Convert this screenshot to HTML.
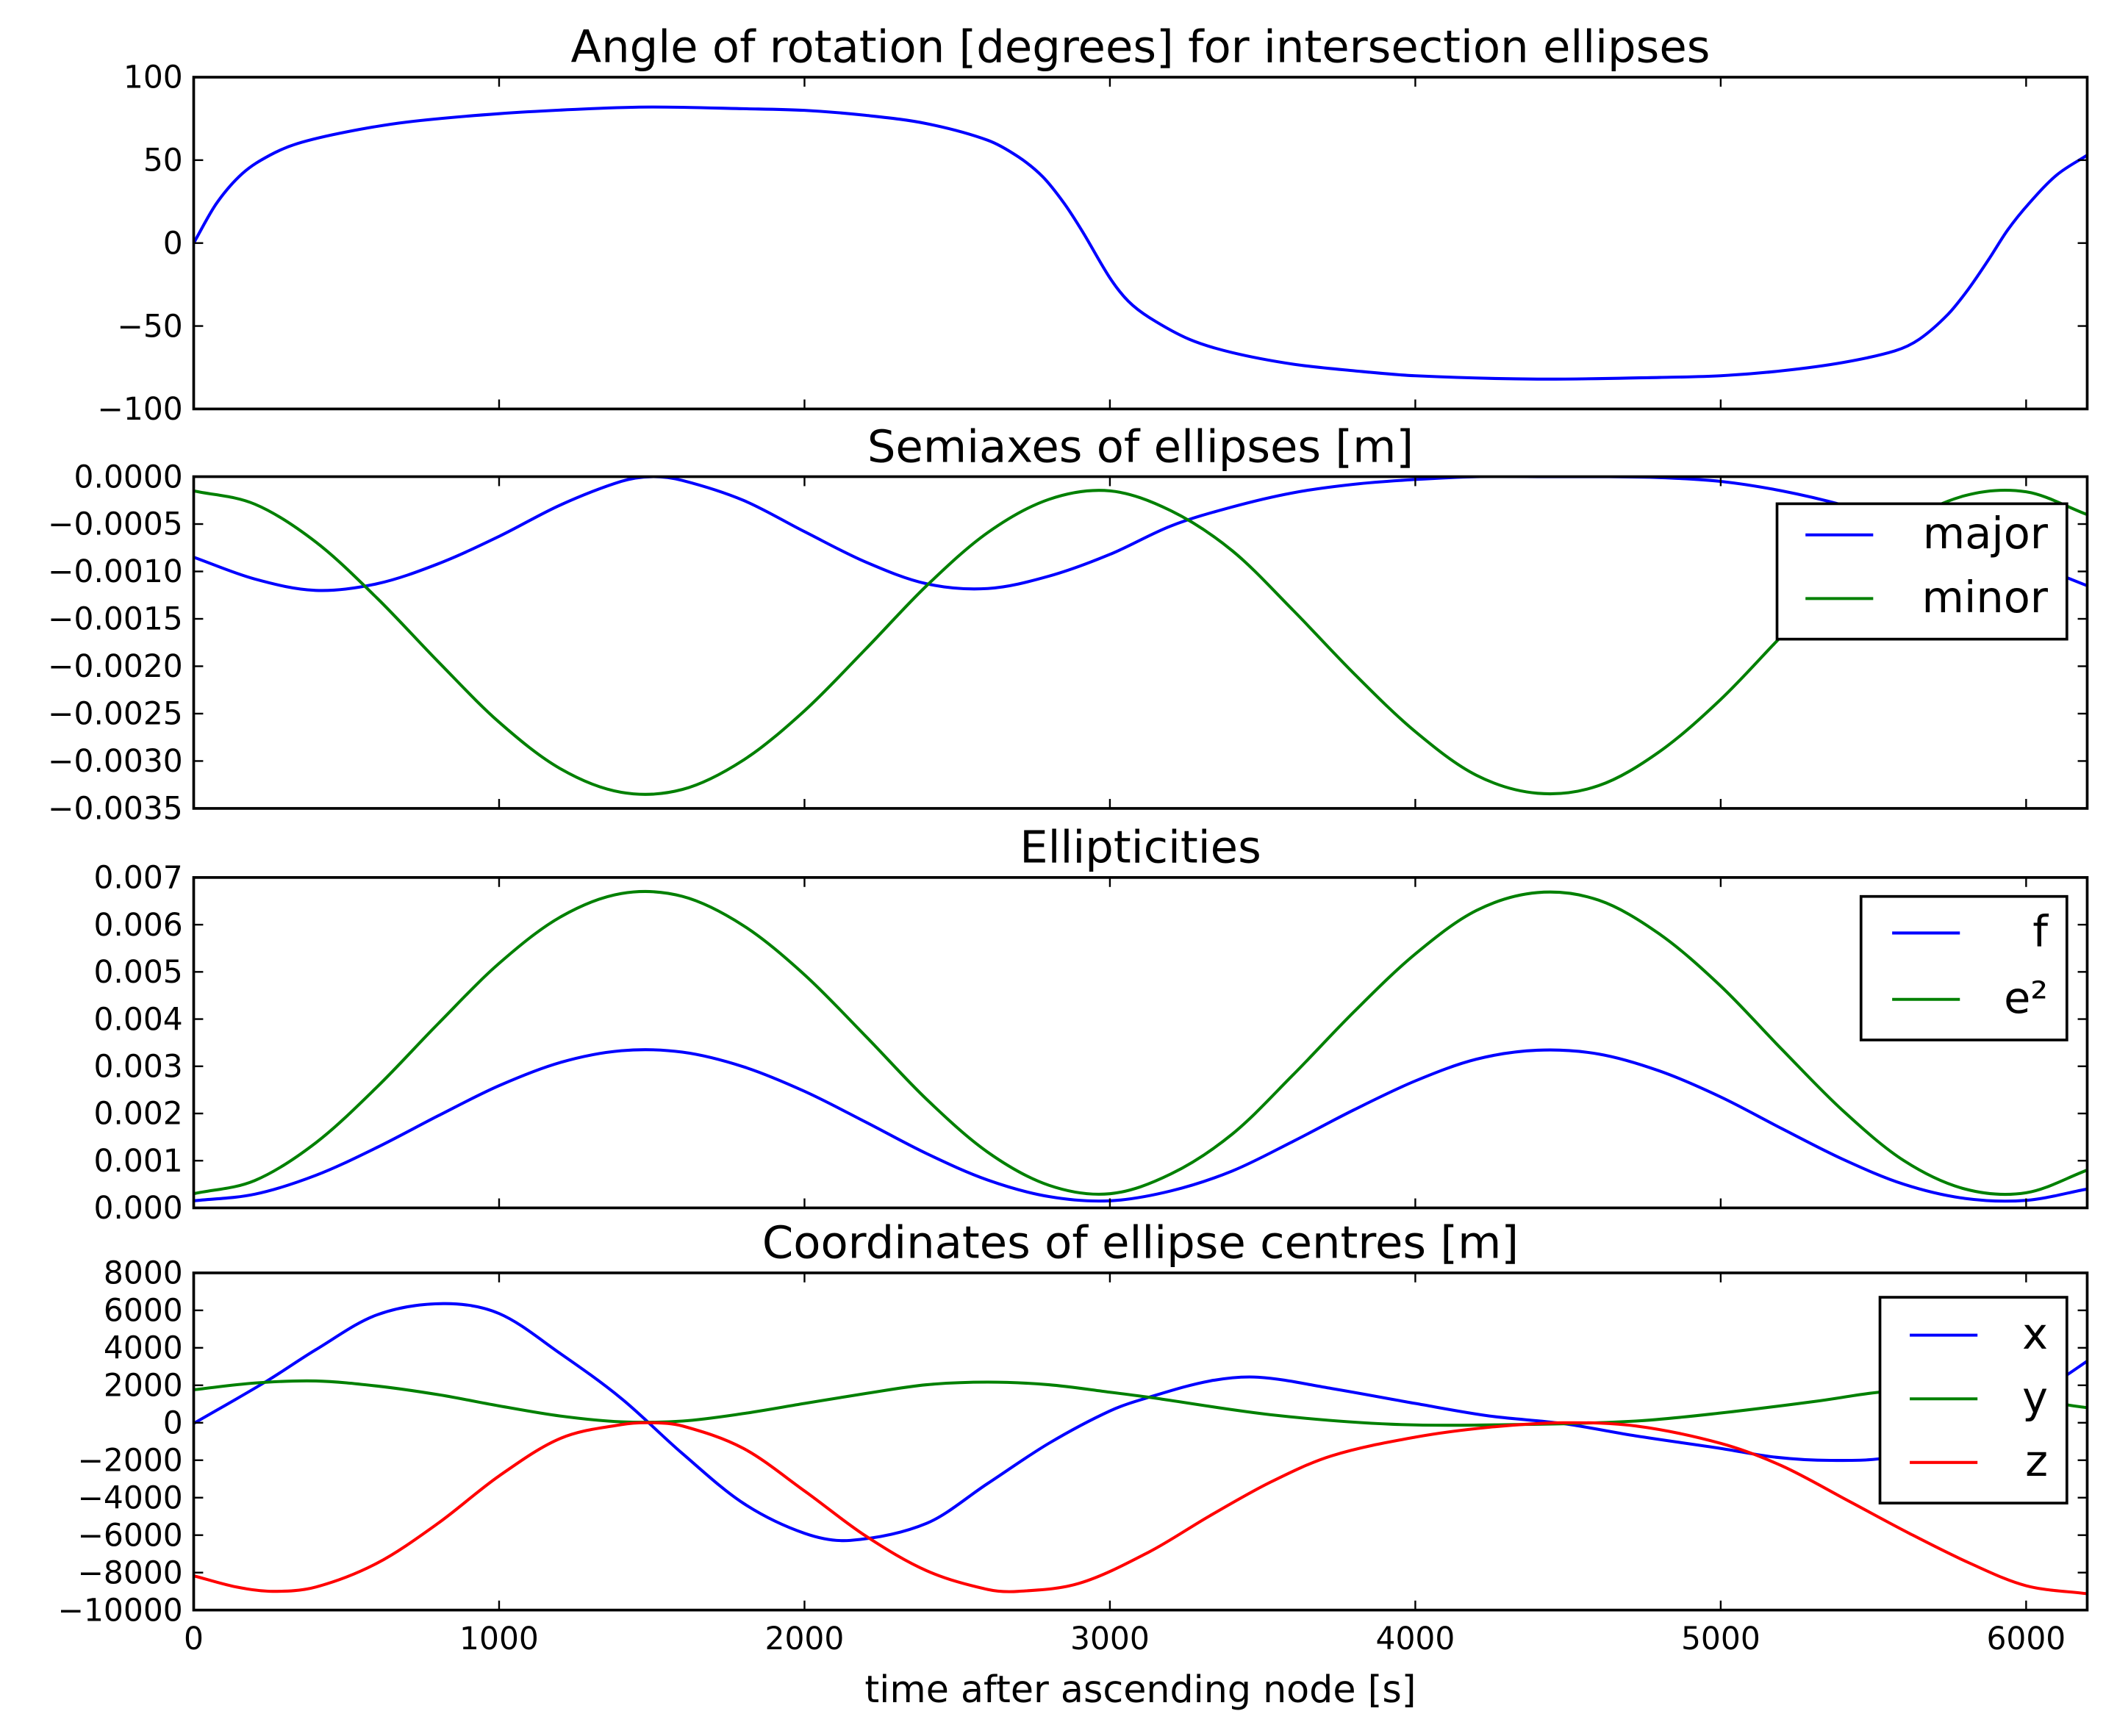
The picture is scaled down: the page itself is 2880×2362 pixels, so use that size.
<!DOCTYPE html>
<html><head><meta charset="utf-8"><style>
html,body{margin:0;padding:0;background:#fff;}
svg{display:block;}
text{font-family:"DejaVu Sans","Liberation Sans",sans-serif;fill:#000;}
</style></head><body>
<svg id="fig" width="2880" height="2362" viewBox="0 0 1563 1282" preserveAspectRatio="none" xmlns="http://www.w3.org/2000/svg"></svg>
<script>
const tAngle=[0,75,160,250,340,500,700,1000,1300,1500,1800,2000,2200,2400,2600,2700,2780,2850,2910,3000,3060,3130,3260,3400,3600,3800,4000,4400,4800,5000,5200,5400,5570,5650,5744,5810,5877,5940,6010,6100,6200];
const angleVals=[0,24,42,53,60,67,73,78,81,82,81,80,77,72,62,52,40,24,7,-21,-35,-45,-58,-66,-73,-77,-80,-82,-81,-80,-77,-72,-65,-58,-43,-28,-10,8,24,41,53];
const tMajor=[0,200,400,600,800,1000,1200,1400,1500,1600,1800,2000,2200,2400,2600,2800,3000,3200,3400,3600,3800,4000,4200,4400,4600,4800,5000,5200,5400,5600,5800,6000,6200];
const majorVals=[-0.00085,-0.00108,-0.0012,-0.00113,-0.00092,-0.00063,-0.0003,-0.00005,0,-0.00004,-0.00025,-0.00058,-0.0009,-0.00113,-0.00118,-0.00105,-0.00082,-0.00052,-0.00032,-0.00017,-0.00008,-0.00003,0,0,0,-0.00001,-0.00005,-0.00015,-0.0003,-0.0005,-0.0007,-0.0009,-0.00115];
const tGrid=[0,200,400,600,800,1000,1200,1400,1600,1800,2000,2200,2400,2600,2800,3000,3200,3400,3600,3800,4000,4200,4400,4600,4800,5000,5200,5400,5600,5800,6000,6200];
const minorVals=[-0.00015,-0.00029,-0.00069,-0.00128,-0.00195,-0.00259,-0.00308,-0.00333,-0.0033,-0.00299,-0.00247,-0.00182,-0.00115,-0.00059,-0.00024,-0.00015,-0.00036,-0.00078,-0.00141,-0.00208,-0.00269,-0.00315,-0.00334,-0.00326,-0.0029,-0.00235,-0.00168,-0.00103,-0.0005,-0.0002,-0.00016,-0.0004];
const fVals=[0.00015,0.00029,0.00069,0.00128,0.00195,0.00259,0.00308,0.00333,0.0033,0.00299,0.00247,0.00182,0.00115,0.00059,0.00024,0.00015,0.00036,0.00078,0.00141,0.00208,0.00269,0.00315,0.00334,0.00326,0.0029,0.00235,0.00168,0.00103,0.0005,0.0002,0.00016,0.0004];
const e2Vals=[0.0003,0.00058,0.00138,0.00256,0.0039,0.00518,0.00616,0.00666,0.0066,0.00598,0.00494,0.00364,0.0023,0.00118,0.00048,0.0003,0.00072,0.00156,0.00282,0.00416,0.00538,0.0063,0.00668,0.00652,0.0058,0.0047,0.00336,0.00206,0.001,0.0004,0.00032,0.0008];
const tX=[0,240,400,600,817,1000,1200,1400,1600,1800,2000,2150,2400,2600,2800,3000,3128,3327,3486,3725,4000,4243,4482,4721,5000,5180,5360,5550,5800,6000,6115,6200];
const xVals=[-40,2230,3900,5760,6360,5830,3700,1300,-1640,-4300,-5900,-6280,-5370,-3240,-1100,630,1360,2230,2430,1830,1030,360,-40,-700,-1370,-1840,-2010,-1850,-700,1300,2360,3290];
const tY=[0,200,400,600,800,1000,1200,1400,1600,1800,2000,2200,2400,2600,2800,3000,3128,3526,3924,4322,4721,5000,5318,5497,5700,5900,6000,6115,6200];
const yVals=[1760,2120,2230,1960,1500,900,360,50,90,490,1030,1560,2030,2170,2030,1630,1360,430,-80,-100,90,520,1160,1590,1900,1950,1700,1030,800];
const tZ=[0,140,260,400,600,800,1000,1200,1400,1500,1600,1800,2000,2200,2400,2600,2700,2900,3128,3327,3526,3725,4000,4243,4482,4721,5000,5200,5418,5617,5816,6000,6200];
const zVals=[-8170,-8770,-9000,-8770,-7500,-5370,-2840,-840,-100,0,-170,-1370,-3640,-6040,-7900,-8900,-9000,-8570,-6900,-4970,-3170,-1770,-770,-240,0,-170,-1100,-2300,-4170,-5900,-7500,-8700,-9130];
const xTicks=[0,1000,2000,3000,4000,5000,6000];
const ticks1=[100,50,0,-50,-100];const labels1=["100","50","0","\u221250","\u2212100"];
const ticks2=[0,-0.0005,-0.001,-0.0015,-0.002,-0.0025,-0.003,-0.0035];
const labels2=["0.0000","\u22120.0005","\u22120.0010","\u22120.0015","\u22120.0020","\u22120.0025","\u22120.0030","\u22120.0035"];
const ticks3=[0.007,0.006,0.005,0.004,0.003,0.002,0.001,0];
const labels3=["0.007","0.006","0.005","0.004","0.003","0.002","0.001","0.000"];
const ticks4=[8000,6000,4000,2000,0,-2000,-4000,-6000,-8000,-10000];
const labels4=["8000","6000","4000","2000","0","\u22122000","\u22124000","\u22126000","\u22128000","\u221210000"];

const NS="http://www.w3.org/2000/svg";
const svg=document.getElementById('fig');
const X0=143,X1=1541;
function sx(t){return X0+(t/6200)*(X1-X0);}
function mk(tag,attrs,parent){const e=document.createElementNS(NS,tag);for(const k in attrs)e.setAttribute(k,attrs[k]);(parent||svg).appendChild(e);return e;}
function hermite(ts,vs,sy){
  const n=ts.length,m=[];
  for(let i=0;i<n;i++){
    if(i===0)m.push((vs[1]-vs[0])/(ts[1]-ts[0]));
    else if(i===n-1)m.push((vs[n-1]-vs[n-2])/(ts[n-1]-ts[n-2]));
    else m.push((vs[i+1]-vs[i-1])/(ts[i+1]-ts[i-1]));
  }
  const P=(t,v)=>sx(t).toFixed(2)+","+sy(v).toFixed(2);
  let d="M"+P(ts[0],vs[0]);
  for(let i=0;i<n-1;i++){const h=ts[i+1]-ts[i];
    d+=" C"+P(ts[i]+h/3,vs[i]+m[i]*h/3)+" "+P(ts[i+1]-h/3,vs[i+1]-m[i+1]*h/3)+" "+P(ts[i+1],vs[i+1]);}
  return d;
}
function panel(name,top,bot,vmax,vmin,ticks,labels,title,series,legend,showX){
  const g=mk('g',{});
  
  
  const sy=v=>top+(vmax-v)/(vmax-vmin)*(bot-top);
  const cid='clip-'+name;
  const cp=mk('clipPath',{id:cid},g);mk('rect',{x:X0,y:top,width:X1-X0,height:bot-top},cp);
  series.forEach(s=>{
    const p=mk('path',{d:hermite(s.t,s.v,sy),fill:'none',stroke:s.c,'stroke-width':2.2,'clip-path':'url(#'+cid+')'},g);
    
    
  });
  mk('rect',{x:X0,y:top,width:X1-X0,height:bot-top,fill:'none',stroke:'#000','stroke-width':2},g);
  ticks.forEach((v,i)=>{const y=sy(v);
    mk('line',{x1:X0,y1:y,x2:X0+7,y2:y,stroke:'#000','stroke-width':1.3},g);
    mk('line',{x1:X1,y1:y,x2:X1-7,y2:y,stroke:'#000','stroke-width':1.3},g);
    const tx=mk('text',{x:X0-8,y:y+8,'text-anchor':'end','font-size':23},g);tx.textContent=labels[i];
    
    
  });
  xTicks.forEach(t=>{const x=sx(t);
    mk('line',{x1:x,y1:bot,x2:x,y2:bot-7,stroke:'#000','stroke-width':1.3},g);
    mk('line',{x1:x,y1:top,x2:x,y2:top+7,stroke:'#000','stroke-width':1.3},g);
    if(showX){const tx=mk('text',{x:x,y:bot+29,'text-anchor':'middle','font-size':23},g);tx.textContent=t;
      
      }
  });
  const tt=mk('text',{x:(X0+X1)/2,y:top-11,'text-anchor':'middle','font-size':33},g);tt.textContent=title;
  
  
  if(legend){
    const lg=mk('g',{},g);
    
    
    mk('rect',{x:legend.x,y:legend.y,width:1526-legend.x,height:legend.h,fill:'#fff',stroke:'#000','stroke-width':2},lg);
    series.forEach((s,i)=>{const y=legend.y+legend.first+i*legend.step;
      mk('line',{x1:legend.lx,y1:y,x2:legend.lx+50,y2:y,stroke:s.c,'stroke-width':2.2},lg);
      const tx=mk('text',{x:1512,y:y+10,'text-anchor':'end','font-size':32},lg);tx.textContent=s.label;
      
      
    });
  }
  return sy;
}
panel('angle-panel',57,302,100,-100,ticks1,labels1,'Angle of rotation [degrees] for intersection ellipses',
  [{t:tAngle,v:angleVals,c:'#0000ff',n:'angle',label:''}],null,false);
panel('semiaxes-panel',352,597,0,-0.0035,ticks2,labels2,'Semiaxes of ellipses [m]',
  [{t:tMajor,v:majorVals,c:'#0000ff',n:'major',label:'major'},{t:tGrid,v:minorVals,c:'#008000',n:'minor',label:'minor'}],
  {x:1312,lx:1333,y:372,h:100,first:23,step:47},false);
panel('ellipticities-panel',648,892,0.007,0,ticks3,labels3,'Ellipticities',
  [{t:tGrid,v:fVals,c:'#0000ff',n:'f',label:'f'},{t:tGrid,v:e2Vals,c:'#008000',n:'e2',label:'e\u00b2'}],
  {x:1374,lx:1397,y:662,h:106,first:27,step:49},false);
panel('centres-panel',940,1189,8000,-10000,ticks4,labels4,'Coordinates of ellipse centres [m]',
  [{t:tX,v:xVals,c:'#0000ff',n:'x',label:'x'},{t:tY,v:yVals,c:'#008000',n:'y',label:'y'},{t:tZ,v:zVals,c:'#ff0000',n:'z',label:'z'}],
  {x:1388,lx:1410,y:958,h:152,first:28,step:47},true);
const xl=mk('text',{x:(X0+X1)/2,y:1257,'text-anchor':'middle','font-size':27.5});
xl.textContent='time after ascending node [s]';


</script>
</body></html>
